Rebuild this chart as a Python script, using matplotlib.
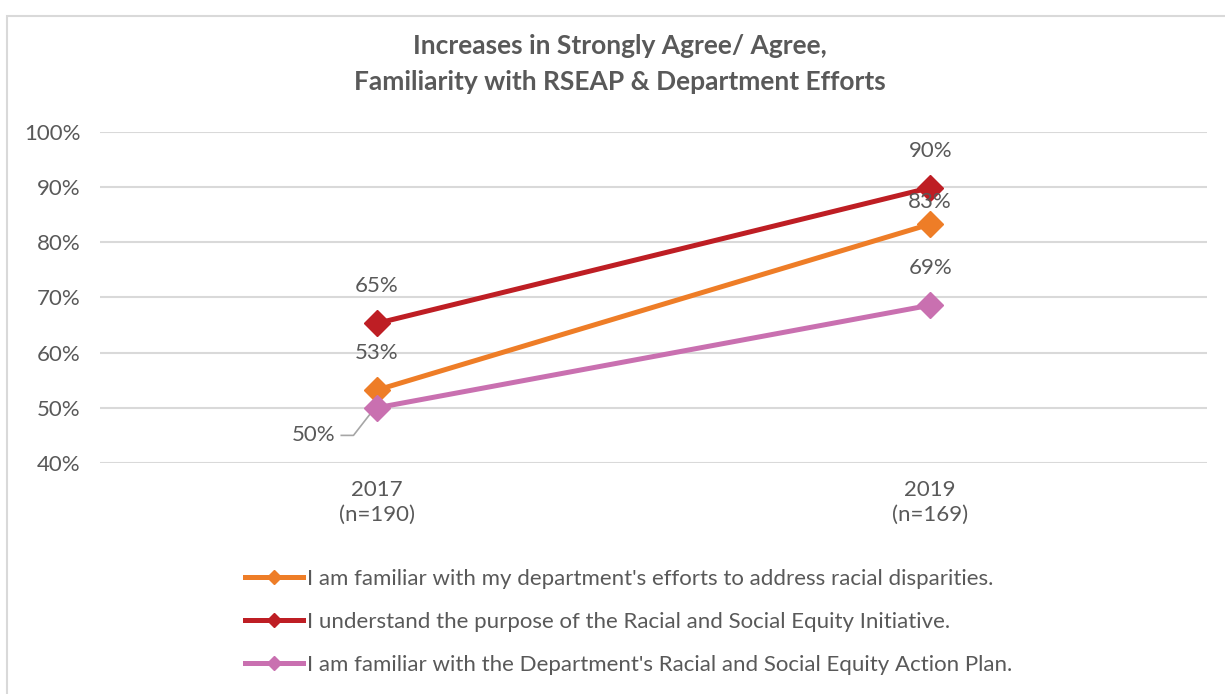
import matplotlib.pyplot as plt
from matplotlib.patches import Rectangle
from matplotlib.lines import Line2D

plt.rcParams['font.family'] = ['Lato', 'DejaVu Sans']

# Data
years = ['2017\n(n=190)', '2019\n(n=169)']
familiar_efforts = [53.2, 83.3]
understand_purpose = [65.3, 89.9]
familiar_plan = [50.0, 68.6]
series_names = [
    "I am familiar with my department's efforts to address racial disparities.",
    "I understand the purpose of the Racial and Social Equity Initiative.",
    "I am familiar with the Department's Racial and Social Equity Action Plan.",
]
colors = ['#EE7D27', '#BE1E24', '#C970B0']
txt = '#595959'

fig = plt.figure(figsize=(12.25, 6.94), dpi=100)
ax = fig.add_axes([0.0816, 0.3329, 0.9037, 0.4769])

# outer chart frame
fig.patches.append(Rectangle((7 / 1225, -0.05), 1.1, 1 - 16 / 694 + 0.05,
                             transform=fig.transFigure, fill=False,
                             edgecolor='#D9D9D9', lw=1.5))

x = [0, 1]
handles = []
for vals, c, name in zip([familiar_efforts, understand_purpose, familiar_plan], colors, series_names):
    ax.plot(x, vals, color=c, lw=3.6, marker='D', ms=13.5, zorder=3)
    handles.append(Line2D([], [], color=c, lw=3.6, marker='D', ms=7, label=name))

# data labels
fs = 16
lab_kw = dict(color=txt, fontsize=fs, ha='center', va='bottom')
ax.text(0, 65.3 + 4.9, '65%', **lab_kw)
ax.text(0, 53.2 + 4.9, '53%', **lab_kw)
ax.text(1, 89.9 + 4.9, '90%', **lab_kw)
ax.text(1, 83.3 + 2.2, '83%', **lab_kw)
ax.text(1, 68.6 + 4.9, '69%', **lab_kw)
ax.text(-0.075, 45.0, '50%', color=txt, fontsize=fs, ha='right', va='center')
ax.plot([-0.064, -0.042, -0.004], [45.0, 45.0, 49.9], color='#A6A6A6', lw=1.2, zorder=2)

ax.set_xlim(-0.5, 1.5)
ax.set_ylim(40, 100)
ax.set_yticks(range(40, 101, 10))
ax.set_yticklabels([f'{v}%' for v in range(40, 101, 10)])
ax.set_xticks(x)
ax.set_xticklabels(years, linespacing=1.35)
ax.tick_params(colors=txt, labelsize=fs, length=0)
ax.tick_params(axis='y', pad=14)
ax.tick_params(axis='x', pad=12)
ax.grid(axis='y', color='#D9D9D9', lw=1.5)
ax.set_axisbelow(True)
for s in ax.spines.values():
    s.set_visible(False)

fig.text(0.506, 1 - 46 / 694, 'Increases in Strongly Agree/ Agree,', ha='center', va='center',
         fontsize=19, fontweight='bold', color=txt)
fig.text(0.506, 1 - 82 / 694, 'Familiarity with RSEAP & Department Efforts', ha='center', va='center',
         fontsize=19, fontweight='bold', color=txt)

fig.legend(handles=handles, loc='upper left', bbox_to_anchor=(236 / 1225, 1 - 560 / 694),
           frameon=False, fontsize=fs, labelcolor=txt, handlelength=2.6, handletextpad=0.2,
           labelspacing=1.04, borderaxespad=0)

fig.savefig('out.png', dpi=100)
